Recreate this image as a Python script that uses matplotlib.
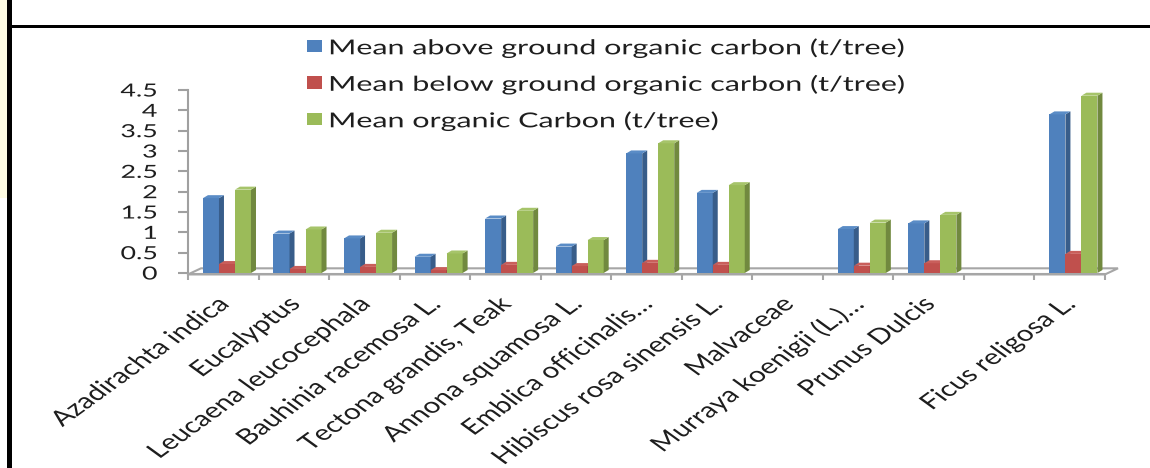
import numpy as np
import matplotlib
matplotlib.use('Agg')
import matplotlib.pyplot as plt
from matplotlib.patches import Polygon, Rectangle
from matplotlib.transforms import Affine2D, ScaledTranslation
from matplotlib import patheffects

# carbon stock per tree, three series per species (blank slot kept as in the sheet)
species = ['Azadirachta indica', 'Eucalyptus', 'Leucaena leucocephala',
           'Bauhinia racemosa L.', 'Tectona grandis, Teak', 'Annona squamosa L.',
           'Emblica officinalis…', 'Hibiscus rosa sinensis L.', 'Malvaceae',
           'Murraya koenigii (L.)…', 'Prunus Dulcis', '', 'Ficus religosa L.']
above_ground = [1.84, 0.97, 0.85, 0.40, 1.34, 0.65, 2.94, 1.97, 0, 1.08, 1.22, 0, 3.90]
below_ground = [0.22, 0.10, 0.15, 0.07, 0.20, 0.17, 0.25, 0.20, 0, 0.18, 0.24, 0, 0.47]
total_carbon = [2.05, 1.07, 0.99, 0.48, 1.53, 0.81, 3.19, 2.16, 0, 1.24, 1.43, 0, 4.36]
series_names = ['Mean above ground organic carbon (t/tree)',
                'Mean below ground organic carbon (t/tree)',
                'Mean organic Carbon (t/tree)']
yticks = [0, 0.5, 1, 1.5, 2, 2.5, 3, 3.5, 4, 4.5]
ytick_labels = ['0', '0.5', '1', '1.5', '2', '2.5', '3', '3.5', '4', '4.5']

front = ['#4f81bd', '#c0504d', '#9bbb59']
side = ['#385d8a', '#8c3a38', '#71893f']
top = ['#5a8cc6', '#c95f5b', '#a6c46a']

SX = 1.48      # horizontal text stretch
SX_CAT = 1.38  # stretch for the slanted category names
FONT = 'Lato'
TXT = '#1e1e1e'


class StretchX(patheffects.AbstractPathEffect):
    """Widen glyphs horizontally, keeping one edge of the ink fixed."""
    def __init__(self, sx, about='left'):
        super().__init__()
        self.sx = sx
        self.about = about

    def draw_path(self, renderer, gc, tpath, affine, rgbFace=None):
        ext = tpath.get_extents(affine)
        x0 = ext.x0 if self.about == 'left' else ext.x1
        t = affine + Affine2D().translate(-x0, 0).scale(self.sx, 1).translate(x0, 0)
        renderer.draw_path(gc, tpath, t, rgbFace)


W, H = 1150, 468
fig = plt.figure(figsize=(W / 100, H / 100), dpi=100)
fig.patch.set_facecolor('white')

# page frame bits
fig.patches.append(Rectangle((0, 1 - 198 / H), 7 / W, 198 / H, transform=fig.transFigure,
                             fc='#fdfbe2', ec='none', zorder=0))
fig.patches.append(Rectangle((7 / W, 0), 5 / W, 1, transform=fig.transFigure,
                             fc='black', ec='none', zorder=5))
fig.patches.append(Rectangle((12 / W, 1 - 28 / H), 1 - 12 / W, 3 / H, transform=fig.transFigure,
                             fc='black', ec='none', zorder=5))

ax = fig.add_axes([188 / W, (H - 273) / H, 917 / W, 183 / H])
ax.set_xlim(-0.5, 12.5)
ax.set_ylim(0, 4.5)
ax.patch.set_alpha(0)

x = np.arange(len(species))
bw = 0.227
dx, dy = 5 / 70.54, 3 / 40.67
offsets = [-0.288, -0.061, 0.166]

# floor of the 3d plot
fdx, fdy, f0 = 13 / 70.54, 0.15, -0.035
floor = Polygon([(-0.5, f0), (-0.5 + fdx, f0 + fdy), (12.5 + fdx, f0 + fdy), (12.5, f0)],
                closed=True, fc='white', ec='#a6a6a6', lw=1.5, zorder=1, clip_on=False)
ax.add_patch(floor)

for k, vals in enumerate([above_ground, below_ground, total_carbon]):
    vals = np.array(vals, dtype=float)
    xs = x + offsets[k]
    show = vals > 0
    ax.bar(xs[show], vals[show], width=bw, align='edge', color=front[k],
           edgecolor='none', zorder=3 + k)
    for xl, h in zip(xs[show], vals[show]):
        ax.add_patch(Polygon([(xl + bw, 0), (xl + bw + dx, dy), (xl + bw + dx, h + dy), (xl + bw, h)],
                             closed=True, fc=side[k], ec='none', zorder=3 + k))
        ax.add_patch(Polygon([(xl, h), (xl + dx, h + dy), (xl + bw + dx, h + dy), (xl + bw, h)],
                             closed=True, fc=top[k], ec='none', zorder=3 + k))

for s in ['top', 'right']:
    ax.spines[s].set_visible(False)
ax.spines['left'].set_color('#a0a0a0')
ax.spines['left'].set_linewidth(1.5)
ax.spines['left'].set_bounds(f0, 4.5)
ax.spines['bottom'].set_position(('data', f0))
ax.spines['bottom'].set_color('#a6a6a6')
ax.spines['bottom'].set_linewidth(1.5)

ax.set_yticks(yticks)
ax.set_yticklabels(ytick_labels)
ax.tick_params(axis='y', direction='out', length=7.2, width=1.5, color='#a0a0a0',
               pad=15, labelsize=13, labelcolor=TXT)
ax.set_xticks(x)
ax.set_xticks(np.arange(-0.5, 13, 1), minor=True)
ax.tick_params(axis='x', which='major', length=0, pad=19, labelsize=15.5, labelcolor=TXT)
ax.tick_params(axis='x', which='minor', direction='out', length=4.5, width=1.5, color='#a6a6a6')
ax.set_xticklabels(species, rotation=45, ha='right', va='center', rotation_mode='anchor')

shift = ScaledTranslation(3 / 100, 0, fig.dpi_scale_trans)
for lab in ax.get_xticklabels():
    lab.set_fontfamily(FONT)
    lab.set_transform(lab.get_transform() + shift)
    lab.set_path_effects([StretchX(SX_CAT, 'right')])
for lab in ax.get_yticklabels():
    lab.set_fontfamily(FONT)
    lab.set_path_effects([StretchX(SX, 'right')])

# legend, stacked at top
for k, name in enumerate(series_names):
    yc = 1 - (46 + 36.5 * k) / H
    fig.patches.append(Rectangle((307 / W, yc - 6 / H), 15 / W, 12 / H, transform=fig.transFigure,
                                 fc=front[k], ec='none', zorder=6))
    t = fig.text(329 / W, yc, name, fontsize=14.8, fontfamily=FONT, color=TXT,
                 ha='left', va='center_baseline')
    t.set_path_effects([StretchX(SX, 'left')])

fig.savefig('out.png', dpi=100)
